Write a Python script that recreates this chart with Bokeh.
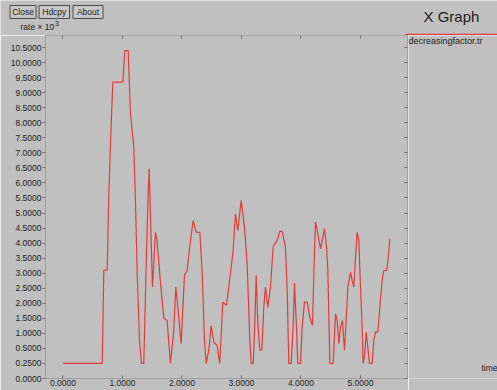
from bokeh.plotting import figure
from bokeh.layouts import column, row
from bokeh.models import (Range1d, LinearAxis, FixedTicker, CustomJSTickFormatter,
                          PrintfTickFormatter, CustomJSTransform, ColumnDataSource)
from bokeh.core.properties import value
from bokeh.transform import transform
from bokeh.embed import file_html
from bokeh.resources import INLINE

# ---- data (time in s, rate x 10^3) ----
time = [0.0, 0.66, 0.686, 0.743, 0.77, 0.80, 0.837, 1.005, 1.039, 1.095,
        1.134, 1.19, 1.218, 1.247, 1.286, 1.319, 1.358, 1.403, 1.43, 1.448,
        1.504, 1.555, 1.58, 1.64, 1.695, 1.75, 1.806, 1.862, 1.896, 1.93,
        1.986, 2.042, 2.087, 2.143, 2.188, 2.238, 2.3, 2.34, 2.378, 2.407,
        2.45, 2.49, 2.535, 2.59, 2.635, 2.686, 2.748, 2.815, 2.86, 2.899,
        2.938, 2.995, 3.05, 3.095, 3.14, 3.163, 3.196, 3.224, 3.247, 3.275,
        3.308, 3.342, 3.375, 3.403, 3.443, 3.487, 3.533, 3.555, 3.6, 3.644,
        3.684, 3.739, 3.768, 3.795, 3.835, 3.868, 3.891, 3.924, 3.946, 3.992,
        4.02, 4.059, 4.104, 4.148, 4.193, 4.227, 4.244, 4.272, 4.328, 4.356,
        4.395, 4.429, 4.45, 4.485, 4.541, 4.58, 4.608, 4.636, 4.664, 4.697,
        4.731, 4.765, 4.787, 4.832, 4.86, 4.888, 4.916, 4.944, 4.972, 5.0,
        5.028, 5.045, 5.073, 5.095, 5.123, 5.151, 5.196, 5.224, 5.252, 5.291,
        5.325, 5.364, 5.392, 5.437, 5.459, 5.493]
rate = [0.25, 0.25, 3.1, 3.1, 5.6, 7.4, 9.35, 9.35, 10.4, 10.4,
        8.3, 7.2, 5.4, 3.0, 0.77, 0.25, 0.25, 3.66, 5.53, 6.47,
        2.54, 4.36, 4.09, 2.66, 1.5, 1.43, 0.25, 1.1, 2.54, 1.87,
        0.66, 2.93, 3.09, 4.09, 4.75, 4.36, 4.36, 3.0, 0.77, 0.25,
        0.47, 1.26, 0.71, 0.6, 0.25, 2.04, 1.93, 3.0, 3.76, 4.97,
        4.42, 5.42, 4.53, 3.31, 0.77, 0.25, 0.25, 1.33, 2.93, 1.33,
        0.47, 0.47, 1.87, 2.54, 1.87, 2.54, 3.87, 3.96, 4.09, 4.4,
        4.38, 3.87, 2.43, 0.25, 0.25, 1.21, 2.67, 1.21, 0.25, 0.25,
        1.21, 2.04, 2.04, 1.54, 1.26, 3.76, 4.7, 4.42, 3.81, 4.09,
        4.48, 3.87, 3.2, 0.25, 0.25, 1.65, 1.43, 0.66, 1.21, 1.43,
        0.47, 1.65, 2.54, 3.03, 2.76, 2.54, 3.53, 4.36, 4.09, 2.54,
        1.21, 0.25, 0.42, 1.04, 0.54, 0.25, 0.25, 0.77, 1.04, 1.04,
        1.87, 2.76, 3.09, 3.09, 3.37, 4.14]

x_tick_values = [0, 1, 2, 3, 4, 5]
y_tick_values = [0.0, 0.25, 0.5, 1.0, 1.5, 2.0, 2.5, 3.0, 3.5, 4.0, 4.5, 5.0,
                 5.5, 6.0, 6.5, 7.0, 7.5, 8.0, 8.5, 9.0, 9.5, 10.0, 10.5]

legend_text = "decreasingfactor.tr"
y_title = "rate \u00d7 10"
y_title_exp = "3"
x_title = "time"
window_title = "X Graph"
buttons = ["Close", "Hdcpy", "About"]

BG = "#c0c0c0"
AX = "#6e6e6e"
TXT = "#222222"
RED = "#e43a3a"
FONT = "Liberation Sans"

W, H = 497, 390
HEAD_H = 35          # header strip above the plot frame
MAIN_W = 408         # main plot (frame ends at x=407)
SIDE_W = W - MAIN_W


def chrome_fig(w, h):
    f = figure(width=w, height=h, output_backend="svg", toolbar_location=None,
               x_range=Range1d(0, w), y_range=Range1d(h, 0),
               x_axis_type=None, y_axis_type=None, min_border=0,
               background_fill_color=BG, border_fill_color=BG, outline_line_color=None)
    f.grid.visible = False
    return f


def txt(f, s, x, y, size="8.5px", align="left"):
    f.text(x=[x], y=[y], text=[s], text_font=value(FONT), text_font_size=value(size),
           text_color=TXT, text_align=align, text_baseline="middle")


# ---- header: buttons, window title, y title, legend swatch ----
head = chrome_fig(W, HEAD_H)
btn_x = [22.5, 53.8, 87.5]
btn_w = [26, 30.5, 30]
head.rect(x=btn_x, y=[11.5] * 3, width=btn_w, height=[13] * 3,
          fill_color="#c8c8c8", line_color="#4a4a4a", line_width=1)
for name, bx in zip(buttons, btn_x):
    txt(head, name, bx, 11.8, align="center")
txt(head, window_title, 423, 16, size="15px")
txt(head, y_title, 20, 26)
txt(head, y_title_exp, 54.5, 22.5, size="7px")
head.segment(x0=[405], y0=[34], x1=[W], y1=[34], line_color=RED, line_width=1.3)

# ---- main plot ----
y_map = CustomJSTransform(
    func="return x >= 0.5 ? x : 2*x - 0.5;",
    v_func="const out = new Float64Array(xs.length);"
           "for (let i = 0; i < xs.length; i++) { const v = xs[i]; out[i] = v >= 0.5 ? v : 2*v - 0.5; }"
           "return out;")
y_fmt = CustomJSTickFormatter(code="const v = tick >= 0.5 ? tick : (tick + 0.5) / 2; return v.toFixed(4);")
blank_fmt = CustomJSTickFormatter(code="return '';")
# the xgraph value axis is uneven below 0.5 (0, 0.25 and 0.5 are equally spaced)
y_ticks = [v if v >= 0.5 else 2 * v - 0.5 for v in y_tick_values]

p = figure(width=MAIN_W, height=H - HEAD_H, output_backend="svg", toolbar_location=None,
           x_range=Range1d(-0.294, 5.79), y_range=Range1d(-0.5, 10.9),
           min_border_left=45, min_border_right=1, min_border_top=0, min_border_bottom=12,
           background_fill_color=BG, border_fill_color=BG, outline_line_color=None)
p.grid.visible = False


def style_axis(ax):
    ax.axis_line_color = AX
    ax.axis_line_dash = "1 1"
    ax.major_tick_line_color = AX
    ax.minor_tick_line_color = None
    ax.major_label_text_color = TXT
    ax.major_label_text_font = FONT
    ax.major_label_text_font_size = "8.5px"


xa = p.xaxis[0]
xa.ticker = FixedTicker(ticks=x_tick_values)
xa.formatter = PrintfTickFormatter(format="%.4f")
style_axis(xa)
xa.major_tick_in = 3
xa.major_tick_out = 0
xa.major_label_standoff = 1

ya = p.yaxis[0]
ya.ticker = FixedTicker(ticks=y_ticks)
ya.formatter = y_fmt
style_axis(ya)
ya.major_tick_in = 0
ya.major_tick_out = 3
ya.major_label_standoff = 1

top_ax = LinearAxis(ticker=FixedTicker(ticks=x_tick_values), formatter=blank_fmt,
                    major_tick_in=3, major_tick_out=0, major_label_standoff=0)
style_axis(top_ax)
p.add_layout(top_ax, "above")

right_ax = LinearAxis(ticker=FixedTicker(ticks=y_ticks), formatter=blank_fmt,
                      major_tick_in=3, major_tick_out=0, major_label_standoff=0)
style_axis(right_ax)
p.add_layout(right_ax, "right")

src = ColumnDataSource(dict(time=time, rate=rate))
p.line(x="time", y=transform("rate", y_map), source=src, line_color=RED, line_width=1.2)

# ---- right strip: legend text and x title ----
side = chrome_fig(SIDE_W, H - HEAD_H)
txt(side, legend_text, 0, 5.5, size="9px")
txt(side, x_title, 481 - MAIN_W, 344)

layout = column(head, row(p, side, spacing=0), spacing=0)
open("out.html", "w").write(file_html(layout, INLINE))
